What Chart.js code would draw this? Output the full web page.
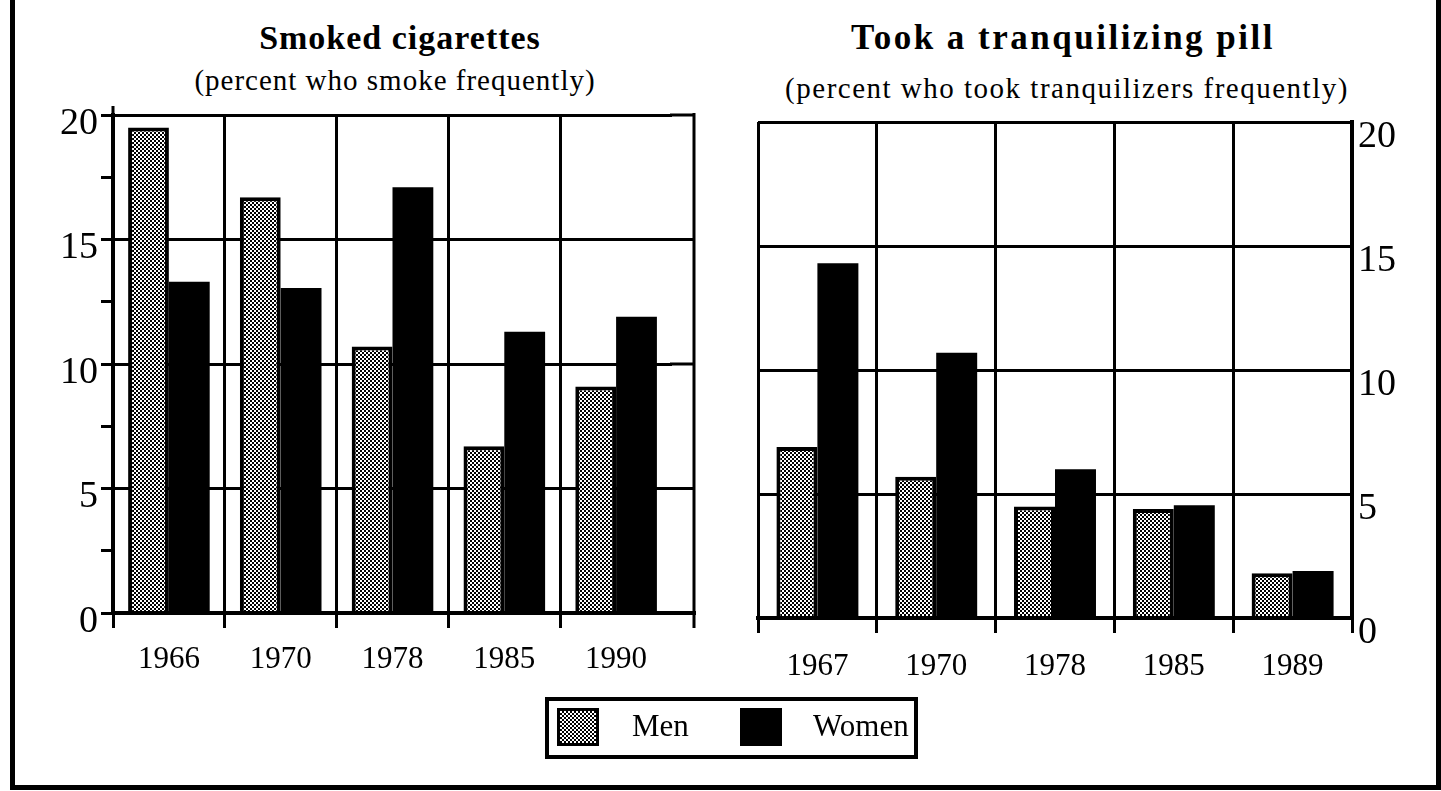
<!DOCTYPE html>
<html>
<head>
<meta charset="utf-8">
<script src="https://cdn.jsdelivr.net/npm/chart.js@4.4.1/dist/chart.umd.min.js"></script>
<style>
  body { margin: 0; background: #fff; width: 1441px; height: 791px; overflow: hidden; position: relative; font-family: "Liberation Serif", serif; color: #000; }
  #frame { position: absolute; left: 10px; top: -10px; width: 1431px; height: 800px; border: 5px solid #000; border-top: none; box-sizing: border-box; }
  .t { position: absolute; width: 800px; text-align: center; line-height: 40px; white-space: nowrap; }
  .title { font-weight: bold; }
  canvas { position: absolute; top: 0; }
  #legend { position: absolute; left: 545px; top: 697px; width: 373px; height: 62px; border: 4px solid #000; box-sizing: border-box; }
  .sw { position: absolute; top: 7px; width: 42px; height: 38px; box-sizing: border-box; border: 3px solid #000; }
  .lt { position: absolute; top: 8px; font-size: 31px; line-height: 34px; }
</style>
</head>
<body>
<div id="frame"></div>

<div class="t title" style="left:0px; top:18px; font-size:34px; letter-spacing:1px;">Smoked cigarettes</div>
<div class="t" style="left:-5px; top:60px; font-size:29px; letter-spacing:1px;">(percent who smoke frequently)</div>
<div class="t title" style="left:663px; top:18px; font-size:35px; letter-spacing:2.5px;">Took a tranquilizing pill</div>
<div class="t" style="left:667px; top:68px; font-size:29px; letter-spacing:1.5px;">(percent who took tranquilizers frequently)</div>

<canvas id="leftChart" width="720" height="700" style="left:0px;"></canvas>
<canvas id="rightChart" width="700" height="700" style="left:720px;"></canvas>

<div id="legend">
  <div class="sw" id="menSwatch" style="left:8px;"></div>
  <div class="lt" style="left:83px;">Men</div>
  <div class="sw" style="left:191px; background:#000;"></div>
  <div class="lt" style="left:264px;">Women</div>
</div>

<script>
// smoking (percent who smoke frequently)
const smokeYears = ['1966', '1970', '1978', '1985', '1990'];
const smokeMen = [19.5, 16.7, 10.7, 6.7, 9.1];
const smokeWomen = [13.3, 13.05, 17.1, 11.3, 11.9];

// tranquilizers (percent who took tranquilizers frequently)
const pillYears = ['1967', '1970', '1978', '1985', '1989'];
const pillMen = [6.9, 5.7, 4.5, 4.4, 1.8];
const pillWomen = [14.3, 10.7, 6.0, 4.55, 1.9];

const yMax = 20;
const yStep = 5;

// dotted grey fill used for the "Men" bars
function makeDots() {
  var c = document.createElement('canvas');
  c.width = 4; c.height = 4;
  var g = c.getContext('2d');
  g.fillStyle = '#000';
  g.fillRect(0, 0, 4, 4);
  g.fillStyle = '#fff';
  g.fillRect(0, 0, 2, 2);
  g.fillRect(2, 2, 2, 2);
  return c;
}
var dotCanvas = makeDots();
document.getElementById('menSwatch').style.background = 'url(' + dotCanvas.toDataURL() + ')';

// redraws the base line over the bars, and optionally stretches the frame to the right
var frameLines = {
  id: 'frameLines',
  afterDatasetsDraw: function (chart, args, opts) {
    var ctx = chart.ctx, a = chart.chartArea, y = chart.scales.y;
    var ext = opts.ext || 0;
    ctx.save();
    ctx.strokeStyle = '#000';
    ctx.lineWidth = 4;
    ctx.beginPath();
    ctx.moveTo(a.left - 2, a.bottom);
    ctx.lineTo(a.right + ext + 2, a.bottom);
    ctx.stroke();
    if (ext > 0) {
      ctx.lineWidth = 3;
      ctx.beginPath();
      for (var v = 0; v <= yMax; v += yStep) {
        var py = y.getPixelForValue(v);
        ctx.moveTo(a.right - 2, py);
        ctx.lineTo(a.right + ext, py);
      }
      ctx.moveTo(a.right + ext, a.top - 2);
      ctx.lineTo(a.right + ext, a.bottom + 15);
      // left axis pokes a little above the top line
      ctx.moveTo(a.left, a.top);
      ctx.lineTo(a.left, a.top - 9);
      ctx.stroke();
    }
    ctx.restore();
  }
};

function makeChart(id, years, men, women, opt) {
  var ctx = document.getElementById(id).getContext('2d');
  var dots = ctx.createPattern(dotCanvas, 'repeat');

  return new Chart(ctx, {
    type: 'bar',
    data: {
      labels: years,
      datasets: [
        { label: 'Men', data: men, backgroundColor: dots, borderColor: '#000', borderWidth: 4,
          barPercentage: 1, categoryPercentage: opt.catPct },
        { label: 'Women', data: women, backgroundColor: '#000', borderColor: '#000', borderWidth: 0,
          barPercentage: 1, categoryPercentage: opt.catPct }
      ]
    },
    options: {
      responsive: false,
      animation: false,
      devicePixelRatio: 1,
      layout: { padding: opt.padding },
      plugins: {
        legend: { display: false },
        tooltip: { enabled: false },
        frameLines: { ext: opt.ext }
      },
      scales: {
        x: {
          grid: {
            offset: true,
            lineWidth: 3,
            tickLength: 15,
            color: function (c) { return (opt.ext && c.type !== 'tick') ? 'rgba(0,0,0,0)' : '#000'; },
            tickColor: function (c) { return (opt.ext && c.type !== 'tick') ? 'rgba(0,0,0,0)' : '#000'; },
            tickWidth: 3
          },
          border: { display: true, color: '#000', width: 4 },
          ticks: { color: '#000', font: { family: 'Liberation Serif', size: 31 }, padding: opt.xPad, maxRotation: 0 },
          afterFit: function (s) { s.height = opt.xHeight; }
        },
        y: {
          position: opt.yPos,
          min: 0,
          max: yMax,
          grid: {
            lineWidth: 3,
            drawTicks: opt.yPos === 'left',
            tickLength: 12,
            tickWidth: 3,
            tickColor: '#000',
            color: function (c) { return (c.tick && c.tick.value % yStep === 0) ? '#000' : 'rgba(0,0,0,0)'; }
          },
          border: { display: true, color: '#000', width: 4 },
          ticks: {
            stepSize: opt.yPos === 'left' ? yStep / 2 : yStep,
            color: '#000',
            font: { family: 'Liberation Serif', size: 38 },
            padding: opt.yPos === 'left' ? 3 : 6,
            labelOffset: opt.labelOffset,
            callback: function (v) { return v % yStep === 0 ? v : ''; }
          },
          afterFit: function (s) { s.width = opt.yWidth; }
        }
      }
    },
    plugins: [frameLines]
  });
}

// left panel: plot area x 113..672 (frame reaches 694), y 115..613
makeChart('leftChart', smokeYears, smokeMen, smokeWomen, {
  catPct: 0.73, ext: 22, yPos: 'left', yWidth: 113, xHeight: 87, labelOffset: 9, xPad: 13,
  padding: { top: 115, right: 48, left: 0, bottom: 0 }
});

// right panel: plot area x 758..1352, y 122..618
makeChart('rightChart', pillYears, pillMen, pillWomen, {
  catPct: 0.69, ext: 0, yPos: 'right', yWidth: 68, xHeight: 82, labelOffset: 15, xPad: 15,
  padding: { top: 122, right: 0, left: 38, bottom: 0 }
});
</script>
</body>
</html>
